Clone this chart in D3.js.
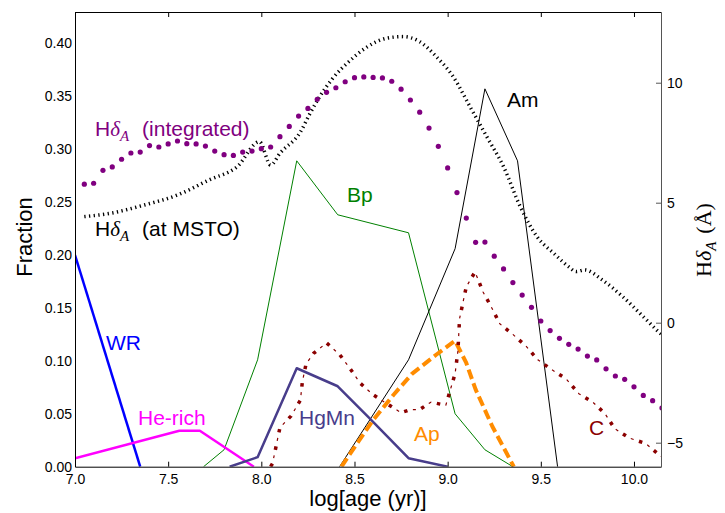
<!DOCTYPE html>
<html lang="en">
  <head>
    <meta charset="utf-8">
    <title>Peculiar star fractions vs age</title>
    <script src="https://d3js.org/d3.v7.js"></script>
    <style>
      body { margin: 0; background: #fff; }
      text { font-family: "Liberation Sans", Arial, sans-serif; }
    </style>
  </head>
  <body>
    <script>

  // size of the page and of the plot box
  var w = 725, h = 513;
  var pLeft = 75, pRight = 661, pTop = 12, pBottom = 466.7;

  // tick values
  var xTicks = [7.0, 7.5, 8.0, 8.5, 9.0, 9.5, 10.0];
  var fracTicks = [0.00, 0.05, 0.10, 0.15, 0.20, 0.25, 0.30, 0.35, 0.40];
  var hdTicks = [-5, 0, 5, 10];

  // fractions of peculiar stars (left axis)
  var wrAge = [7.0, 7.35];
  var wrFrac = [0.200, 0.0];

  var heAge = [7.0, 7.56, 7.67, 7.96];
  var heFrac = [0.008, 0.034, 0.034, 0.0];

  var bpAge = [7.69, 7.80, 7.98, 8.19, 8.41, 8.79, 9.04, 9.20, 9.35];
  var bpFrac = [0.0, 0.016, 0.101, 0.289, 0.238, 0.221, 0.050, 0.016, 0.0];

  var hgAge = [7.83, 7.98, 8.19, 8.41, 8.58, 8.79, 9.00];
  var hgFrac = [0.0, 0.009, 0.093, 0.076, 0.046, 0.008, 0.0];

  var amAge = [8.42, 8.79, 9.04, 9.20, 9.375, 9.59];
  var amFrac = [0.0, 0.101, 0.206, 0.357, 0.289, 0.0];

  var apAge = [8.43, 8.51, 8.60, 8.71, 8.81, 8.94, 9.04, 9.10, 9.15, 9.24, 9.355];
  var apFrac = [0.0, 0.021, 0.044, 0.068, 0.088, 0.106, 0.119, 0.098, 0.073, 0.038, 0.0];

  var cAge = [8.05, 8.06, 8.08, 8.10, 8.16, 8.21, 8.22, 8.24, 8.28, 8.35, 8.42, 8.475, 8.53, 8.60, 8.67,
              8.75, 8.80, 8.85, 8.91, 8.99, 9.04, 9.055, 9.064, 9.10, 9.147, 9.19, 9.234, 9.28, 9.35,
              9.42, 9.484, 9.556, 9.636, 9.704, 9.779, 9.845, 9.896, 9.976, 10.062, 10.137, 10.16];
  var cFrac = [0.0, 0.003, 0.020, 0.037, 0.048, 0.063, 0.080, 0.097, 0.107, 0.117, 0.106, 0.093, 0.079, 0.068, 0.060,
               0.051, 0.054, 0.054, 0.061, 0.058, 0.088, 0.109, 0.140, 0.170, 0.184, 0.165, 0.151, 0.135, 0.125,
               0.114, 0.101, 0.092, 0.083, 0.069, 0.061, 0.050, 0.036, 0.027, 0.022, 0.011, 0.008];

  // H delta A, integrated (right axis, dots)
  var intAge = [7.05, 7.10, 7.15, 7.20, 7.25, 7.30, 7.35, 7.40, 7.45, 7.50, 7.55, 7.60, 7.65, 7.70, 7.75, 7.80,
                7.85, 7.90, 7.95, 8.00, 8.05, 8.10, 8.15, 8.20, 8.25, 8.30, 8.35, 8.40, 8.45, 8.50, 8.55, 8.60,
                8.65, 8.70, 8.75, 8.80, 8.85, 8.90, 8.95, 9.00, 9.05, 9.10, 9.15, 9.20, 9.25, 9.30, 9.35, 9.40,
                9.45, 9.50, 9.55, 9.60, 9.65, 9.70, 9.75, 9.80, 9.85, 9.90, 9.95, 10.00, 10.05, 10.10, 10.15];
  var intHd = [5.77, 5.81, 6.35, 6.49, 6.81, 7.07, 7.11, 7.38, 7.32, 7.45, 7.57, 7.46, 7.45, 7.36, 7.15, 7.00,
               6.97, 7.11, 7.15, 7.25, 7.32, 7.75, 8.18, 8.61, 8.93, 9.31, 9.60, 9.79, 10.04, 10.21, 10.24, 10.22,
               10.20, 10.06, 9.73, 9.28, 8.77, 8.11, 7.35, 6.45, 5.42, 4.36, 3.35, 3.36, 2.77, 2.24, 1.67, 1.15,
               0.64, 0.07, -0.33, -0.65, -0.90, -1.10, -1.39, -1.55, -1.92, -2.22, -2.36, -2.67, -3.03, -3.25, -3.55];

  // H delta A at the main sequence turn-off (right axis, dotted line)
  var mstoAge = [7.05, 7.19, 7.37, 7.55, 7.72, 7.87, 7.99, 8.05, 8.10, 8.21, 8.26, 8.30, 8.38, 8.48, 8.56,
                 8.67, 8.76, 8.85, 8.94, 9.03, 9.12, 9.21, 9.30, 9.39, 9.48, 9.57, 9.65, 9.69, 9.735, 9.83,
                 9.94, 10.05, 10.14, 10.16];
  var mstoHd = [4.42, 4.56, 4.90, 5.32, 5.95, 6.50, 7.54, 6.57, 7.06, 7.95, 8.70, 9.25, 10.15, 10.95, 11.45,
                11.85, 11.92, 11.71, 11.08, 10.25, 9.00, 7.75, 6.50, 4.83, 3.58, 2.89, 2.33, 2.13, 2.20, 1.78,
                1.08, 0.25, -0.44, -0.58];

  // scales
  var xScale = d3.scaleLinear().domain([7.0, 10.145]).range([pLeft, pRight]);
  var yFrac = d3.scaleLinear().domain([0, 0.4296]).range([pBottom, pTop]);
  var yHd = d3.scaleLinear().domain([-6, 12.946]).range([pBottom, pTop]);

  var svg = d3.select("body")
    .append("svg")
    .attr("width", w)
    .attr("height", h);

  svg.append("clipPath")
    .attr("id", "plotclip")
    .append("rect")
    .attr("x", pLeft)
    .attr("y", pTop)
    .attr("width", pRight - pLeft)
    .attr("height", pBottom - pTop);

  var plot = svg.append("g").attr("clip-path", "url(#plotclip)");

  function pairs(xs, ys) {
    return xs.map((x, i) => [x, ys[i]]);
  }

  var fracLine = d3.line().x(d => xScale(d[0])).y(d => yFrac(d[1]));
  var hdLine = d3.line().x(d => xScale(d[0])).y(d => yHd(d[1]));

  function drawFrac(xs, ys, color, width, dash) {
    return plot.append("path")
      .datum(pairs(xs, ys))
      .attr("d", fracLine)
      .attr("fill", "none")
      .attr("stroke", color)
      .attr("stroke-width", width)
      .attr("stroke-linejoin", "round")
      .attr("stroke-dasharray", dash || null);
  }

  // H delta A at MSTO
  plot.append("path")
    .datum(pairs(mstoAge, mstoHd))
    .attr("d", hdLine.curve(d3.curveMonotoneX))
    .attr("fill", "none")
    .attr("stroke", "#000")
    .attr("stroke-width", 3.5)
    .attr("stroke-dasharray", "1.3,3.4");

  drawFrac(bpAge, bpFrac, "#008000", 1);
  drawFrac(amAge, amFrac, "#000", 1);
  drawFrac(wrAge, wrFrac, "#0000ff", 2.5);
  drawFrac(heAge, heFrac, "#ff00ff", 2.5);
  drawFrac(hgAge, hgFrac, "#483d8b", 2.5);
  drawFrac(apAge, apFrac, "#ff8c00", 4, "10,4.5");

  // C stars: square dots plus thin dashes
  drawFrac(cAge, cFrac, "#8b0000", 3.5, "3.5,14.2");
  drawFrac(cAge, cFrac, "#8b0000", 1.2, "3,14.7").attr("stroke-dashoffset", -9.1);

  // integrated H delta A as dots
  plot.selectAll("circle.int")
    .data(pairs(intAge, intHd))
    .enter()
    .append("circle")
    .attr("class", "int")
    .attr("cx", d => xScale(d[0]))
    .attr("cy", d => yHd(d[1]))
    .attr("r", 2.6)
    .attr("fill", "#800080");

  // axes
  var bottomAxis = d3.axisBottom(xScale)
    .tickValues(xTicks)
    .tickFormat(d3.format(".1f"))
    .tickSizeInner(-5)
    .tickSizeOuter(0)
    .tickPadding(7);
  var topAxis = d3.axisTop(xScale)
    .tickValues(xTicks)
    .tickFormat("")
    .tickSizeInner(-5)
    .tickSizeOuter(0);
  var leftAxis = d3.axisLeft(yFrac)
    .tickValues(fracTicks)
    .tickFormat(d3.format(".2f"))
    .tickSize(0)
    .tickPadding(3);
  var rightAxis = d3.axisRight(yHd)
    .tickValues(hdTicks)
    .tickSizeInner(-5)
    .tickSizeOuter(0)
    .tickPadding(6);

  var gB = svg.append("g").attr("transform", "translate(0," + pBottom + ")").call(bottomAxis);
  var gT = svg.append("g").attr("transform", "translate(0," + pTop + ")").call(topAxis);
  var gL = svg.append("g").attr("transform", "translate(" + pLeft + ",0)").call(leftAxis);
  var gR = svg.append("g").attr("transform", "translate(" + pRight + ",0)").call(rightAxis);

  [gB, gT, gL, gR].forEach(g => {
    g.selectAll("text")
      .attr("fill", "#000")
      .style("font-size", "14px")
      .style("font-family", "'Liberation Sans', Arial, sans-serif");
    g.select(".domain").attr("stroke", "#000").attr("stroke-width", 1);
    g.selectAll(".tick line").attr("stroke", "#000");
  });
  gR.select(".domain").attr("stroke", "#555");
  gR.selectAll(".tick line").attr("stroke", "#555");

  // axis titles
  svg.append("text")
    .attr("transform", "translate(32,237) rotate(-90)")
    .attr("text-anchor", "middle")
    .style("font-size", "22px")
    .text("Fraction");

  svg.append("text")
    .attr("x", (pLeft + pRight) / 2)
    .attr("y", 506)
    .attr("text-anchor", "middle")
    .style("font-size", "22px")
    .text("log[age (yr)]");

  var rt = svg.append("text")
    .attr("transform", "translate(711,240) rotate(-90)")
    .attr("text-anchor", "middle")
    .style("font-size", "22px")
    .style("font-family", "'Liberation Serif', 'DejaVu Serif', serif");
  rt.append("tspan").text("H");
  rt.append("tspan").style("font-style", "italic").text("δ");
  rt.append("tspan").style("font-style", "italic").style("font-size", "15px").attr("dy", 5).text("A");
  rt.append("tspan").attr("dy", -5).attr("dx", 8).text("(Å)");

  // H delta A labels inside the plot
  function hdLabel(x, y, color, rest) {
    var t = svg.append("text")
      .attr("x", x)
      .attr("y", y)
      .attr("fill", color)
      .style("font-size", "21px");
    t.append("tspan").text("H");
    t.append("tspan")
      .style("font-family", "'Liberation Serif', 'DejaVu Serif', serif")
      .style("font-style", "italic")
      .text("δ");
    t.append("tspan")
      .style("font-family", "'Liberation Serif', 'DejaVu Serif', serif")
      .style("font-style", "italic")
      .style("font-size", "15px")
      .attr("dy", 5)
      .text("A");
    t.append("tspan").attr("dy", -5).attr("dx", 13).text(rest);
  }
  hdLabel(95, 136, "#800080", "(integrated)");
  hdLabel(95, 236, "#000", "(at MSTO)");

  // series labels
  var labels = [
    { text: "Am", x: 507, y: 107, color: "#000" },
    { text: "Bp", x: 347, y: 202, color: "#008000" },
    { text: "WR", x: 106, y: 350, color: "#0000ff" },
    { text: "He-rich", x: 138, y: 425, color: "#ff00ff" },
    { text: "HgMn", x: 299, y: 425, color: "#483d8b" },
    { text: "Ap", x: 414, y: 441, color: "#ff8c00" },
    { text: "C", x: 589, y: 435, color: "#8b0000" }
  ];
  svg.selectAll("text.lab")
    .data(labels)
    .enter()
    .append("text")
    .attr("class", "lab")
    .attr("x", d => d.x)
    .attr("y", d => d.y)
    .attr("fill", d => d.color)
    .style("font-size", "21px")
    .text(d => d.text);

    </script>
  </body>
</html>
